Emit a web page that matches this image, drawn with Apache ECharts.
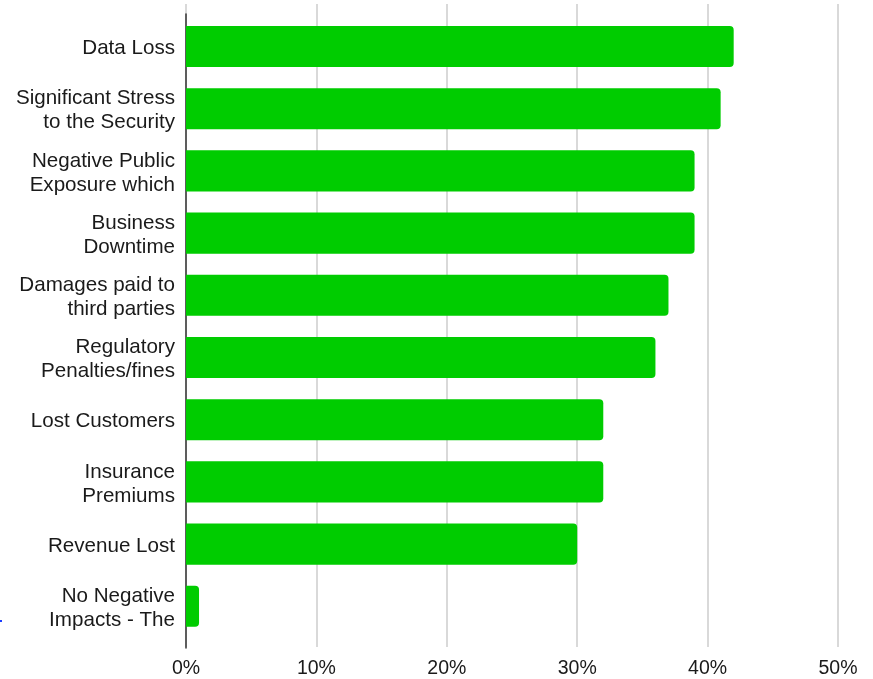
<!DOCTYPE html>
<html>
<head>
<meta charset="utf-8">
<script src="https://cdn.jsdelivr.net/npm/echarts@6/dist/echarts.min.js"></script>
<style>
  html, body { margin: 0; padding: 0; background: #ffffff; }
  #chart { width: 873px; height: 679px; }
</style>
</head>
<body>
<div id="chart"></div>
<script>
// Survey: consequences of security incidents (share of respondents)
var categories = [
  'Data Loss',
  'Significant Stress\nto the Security',
  'Negative Public\nExposure which',
  'Business\nDowntime',
  'Damages paid to\nthird parties',
  'Regulatory\nPenalties/fines',
  'Lost Customers',
  'Insurance\nPremiums',
  'Revenue Lost',
  'No Negative\nImpacts - The'
];
var shares = [42, 41, 39, 39, 37, 36, 32, 32, 30, 1];
var xMin = 0, xMax = 50, xStep = 10;

var FONT = '"Liberation Sans", Arial, sans-serif';
var chart = echarts.init(document.getElementById('chart'), null, { renderer: 'canvas' });

// categories listed top to bottom, so the axis is inverted
chart.setOption({
  animation: false,
  backgroundColor: '#ffffff',
  grid: [
    // grid lines and percentage ticks
    { left: 186, right: 35, top: 4, bottom: 31, containLabel: false },
    // vertical axis line
    { left: 186, right: 35, top: 14, bottom: 31, containLabel: false },
    // bars
    { left: 186, right: 35, top: 15.4, bottom: 41.6, containLabel: false },
    // category labels, set a touch lower than the bar centres
    { left: 186, right: 35, top: 17.4, bottom: 39.6, containLabel: false }
  ],
  xAxis: [
    {
      gridIndex: 0, type: 'value', min: xMin, max: xMax, interval: xStep,
      axisLine: { show: false }, axisTick: { show: false },
      splitLine: { show: true, lineStyle: { color: '#cccccc', width: 1.5 } },
      axisLabel: {
        margin: 12, color: '#1a1a1a', fontSize: 19.5, fontFamily: FONT,
        formatter: function (v) { return v + '%'; }
      }
    },
    { gridIndex: 1, type: 'value', min: xMin, max: xMax, show: false },
    { gridIndex: 2, type: 'value', min: xMin, max: xMax, show: false },
    { gridIndex: 3, type: 'value', min: xMin, max: xMax, show: false }
  ],
  yAxis: [
    {
      gridIndex: 0, type: 'category', data: categories, inverse: true, show: false
    },
    {
      gridIndex: 1, type: 'category', data: categories, inverse: true,
      axisLine: { show: true, lineStyle: { color: '#333333', width: 1.5 } },
      axisTick: { show: false }, axisLabel: { show: false }, splitLine: { show: false }
    },
    {
      gridIndex: 2, type: 'category', data: categories, inverse: true, show: false
    },
    {
      gridIndex: 3, type: 'category', data: categories, inverse: true,
      axisLine: { show: false }, axisTick: { show: false }, splitLine: { show: false },
      axisLabel: {
        margin: 11, color: '#1a1a1a', fontSize: 20.6, lineHeight: 24,
        fontFamily: FONT, align: 'right'
      }
    }
  ],
  series: [
    {
      type: 'bar',
      xAxisIndex: 2, yAxisIndex: 2,
      data: shares,
      barCategoryGap: '34%',
      itemStyle: { color: '#00cc00', borderRadius: [0, 4, 4, 0] },
      silent: true
    }
  ],
  graphic: [
    // small blue marker at the left edge
    { type: 'rect', left: 0, top: 620, shape: { width: 2, height: 2 }, style: { fill: '#1a3cff' } }
  ]
});
</script>
</body>
</html>
